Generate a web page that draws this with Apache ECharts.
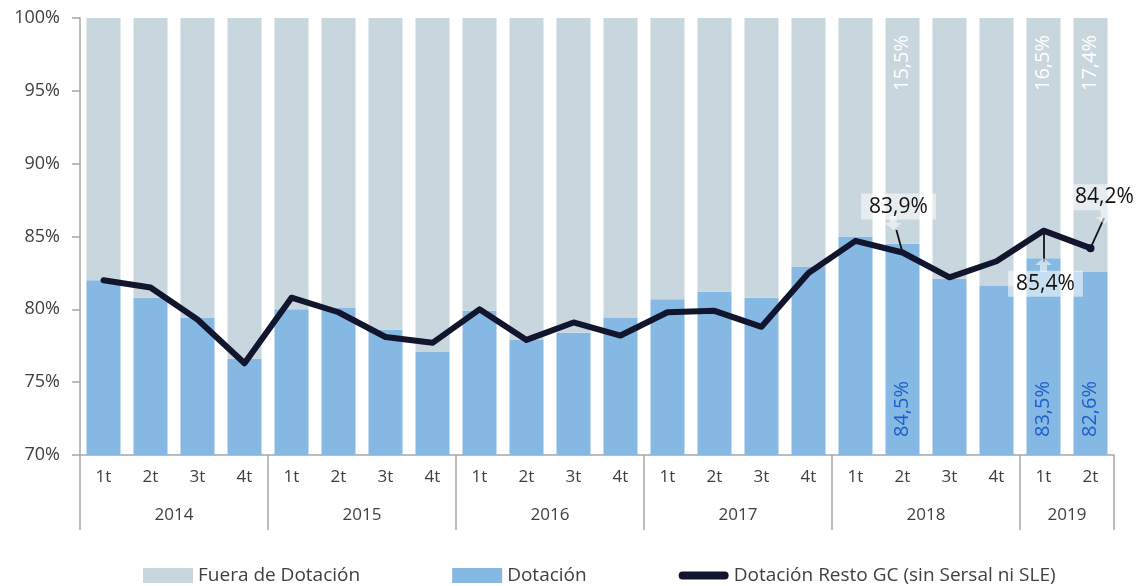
<!DOCTYPE html>
<html lang="es" style="height: 100%">
<head>
  <meta charset="UTF-8">
  <title>Dotación</title>
  <script src="https://cdn.jsdelivr.net/npm/echarts@6/dist/echarts.min.js"></script>
</head>
<body style="height: 100%; margin: 0; background: #fff;">
  <div id="main" style="width: 1140px; height: 586px;"></div>

  <script>
  // trimestres y años
  const quarters = ['1t','2t','3t','4t','1t','2t','3t','4t','1t','2t','3t','4t',
                    '1t','2t','3t','4t','1t','2t','3t','4t','1t','2t'];
  const years = ['2014', '2015', '2016', '2017', '2018', '2019'];
  const yearCenters = [2, 6, 10, 14, 18, 21];
  const yearBounds = [0, 4, 8, 12, 16, 20, 22];

  // valores (%)
  const dotacion = [82.0, 80.8, 79.4, 76.6, 80.0, 80.1, 78.6, 77.1, 79.9, 77.9, 78.4,
                    79.4, 80.7, 81.2, 80.8, 82.9, 85.0, 84.5, 82.1, 81.6, 83.5, 82.6];
  const fuera = [18.0, 19.2, 20.6, 23.4, 20.0, 19.9, 21.4, 22.9, 20.1, 22.1, 21.6,
                 20.6, 19.3, 18.8, 19.2, 17.1, 15.0, 15.5, 17.9, 18.4, 16.5, 17.4];
  const resto = [82.0, 81.5, 79.3, 76.3, 80.8, 79.8, 78.1, 77.7, 80.0, 77.9, 79.1,
                 78.2, 79.8, 79.9, 78.8, 82.5, 84.7, 83.9, 82.2, 83.3, 85.4, 84.2];

  const barLabelIdx = [17, 20, 21];
  const lineLabelIdx = [17, 20, 21];

  const fmt = v => v.toFixed(1).replace('.', ',') + '%';
  const FONT = '"Open Sans", "Noto Sans", sans-serif';

  const chart = echarts.init(document.getElementById('main'));

  // desplazamiento de las etiquetas de la línea (px)
  const lineLabelShift = {
    17: { dx: -4, dy: -46 },
    20: { dx: 2, dy: 53 },
    21: { dx: 14, dy: -51 }
  };
  // guías: [índice, desplazamiento x (categorías), desplazamiento y (%)]
  const leaders = [[17, -0.13, 1.55], [20, 0, -2.15], [21, 0.29, 2.07]];
  // flechas de las etiquetas: [índice, dx, dy (%), giro]
  const arrows = [[17, -0.2, 2.03, 180], [20, 0, -2.35, 0], [21, 0.29, 2.14, 180]];

  const option = {
    animation: false,
    textStyle: { fontFamily: FONT },
    grid: { left: 80, right: 26, top: 18, bottom: 131 },
    legend: {
      top: 561,
      left: 138,
      itemWidth: 50,
      itemHeight: 15,
      itemGap: 92,
      textStyle: { fontSize: 19, color: '#404040', fontFamily: FONT },
      data: [
        { name: 'Fuera de Dotación', icon: 'rect' },
        { name: 'Dotación', icon: 'rect' },
        {
          name: 'Dotación Resto GC (sin Sersal ni SLE)',
          icon: 'path://M5,0 H59 A5,5 0 0 1 59,10 H5 A5,5 0 0 1 5,0 Z'
        }
      ]
    },
    xAxis: [
      {
        type: 'category',
        data: quarters,
        axisLine: { lineStyle: { color: '#a6a6a6', width: 1.5 } },
        axisTick: { show: false },
        axisLabel: { color: '#404040', fontSize: 17, margin: 14, interval: 0 }
      },
      {
        type: 'value',
        min: 0,
        max: 22,
        position: 'bottom',
        axisLine: { show: false },
        splitLine: { show: false },
        axisTick: {
          show: true,
          length: 75,
          customValues: yearBounds,
          lineStyle: { color: '#a6a6a6', width: 1.5 }
        },
        axisLabel: {
          customValues: yearCenters,
          margin: 52,
          color: '#404040',
          fontSize: 17,
          formatter: v => years[yearCenters.indexOf(v)]
        }
      }
    ],
    yAxis: {
      type: 'value',
      min: 70,
      max: 100,
      interval: 5,
      axisLine: { show: true, lineStyle: { color: '#a6a6a6', width: 1.5 } },
      axisTick: { show: true, length: 8, lineStyle: { color: '#a6a6a6', width: 1.5 } },
      splitLine: { show: false },
      axisLabel: { color: '#404040', fontSize: 18, margin: 20, formatter: '{value}%' }
    },
    series: [
      {
        name: 'Dotación',
        type: 'bar',
        stack: 'total',
        barWidth: 34,
        itemStyle: { color: '#85b8e3' },
        data: dotacion.map((v, i) => ({
          value: v,
          label: barLabelIdx.includes(i) ? {
            show: true,
            position: 'insideBottom',
            rotate: 90,
            align: 'left',
            verticalAlign: 'middle',
            distance: 18,
            color: '#1f5fcc',
            fontSize: 20,
            formatter: p => fmt(p.value)
          } : { show: false }
        }))
      },
      {
        name: 'Fuera de Dotación',
        type: 'bar',
        stack: 'total',
        barWidth: 34,
        itemStyle: { color: '#c8d6de' },
        data: fuera.map((v, i) => ({
          value: v,
          label: barLabelIdx.includes(i) ? {
            show: true,
            position: 'insideTop',
            rotate: 90,
            align: 'right',
            verticalAlign: 'middle',
            distance: 17,
            color: '#ffffff',
            fontSize: 20,
            formatter: p => fmt(p.value)
          } : { show: false }
        }))
      },
      {
        name: 'Dotación Resto GC (sin Sersal ni SLE)',
        type: 'line',
        z: 5,
        symbol: 'circle',
        showSymbol: true,
        showAllSymbol: true,
        symbolSize: (v, p) => (p.dataIndex === 21 ? 8 : 0),
        lineStyle: { color: '#11162e', width: 6, join: 'round', cap: 'round' },
        itemStyle: { color: '#11162e' },
        labelLayout: p => lineLabelShift[p.dataIndex] || {},
        data: resto.map((v, i) => ({
          value: v,
          label: lineLabelIdx.includes(i) ? {
            show: true,
            position: 'inside',
            color: '#111',
            fontSize: 21,
            backgroundColor: 'rgba(255,255,255,0.55)',
            padding: [3, 8, 2, 8],
            formatter: p => fmt(p.value)
          } : { show: false }
        }))
      },
      {
        // guías y flechas de las etiquetas, sobre el eje continuo
        type: 'line',
        xAxisIndex: 1,
        z: 6,
        silent: true,
        data: [],
        markLine: {
          silent: true,
          symbol: 'none',
          label: { show: false },
          lineStyle: { color: '#111', width: 1.8, type: 'solid' },
          data: leaders.map(([i, ox, oy]) => [
            { coord: [i + 0.5, resto[i]] },
            { coord: [i + 0.5 + ox, resto[i] + oy] }
          ])
        },
        markPoint: {
          silent: true,
          symbol: 'path://M6,0 L12,6 L8.5,6 L8.5,12 L3.5,12 L3.5,6 L0,6 Z',
          symbolSize: [17, 14],
          label: { show: false },
          itemStyle: { color: 'rgba(255,255,255,0.55)' },
          data: arrows.map(([i, ox, oy, rot]) => ({
            coord: [i + 0.5 + ox, resto[i] + oy],
            symbolRotate: rot
          }))
        }
      }
    ]
  };

  chart.setOption(option);
  </script>
</body>
</html>
